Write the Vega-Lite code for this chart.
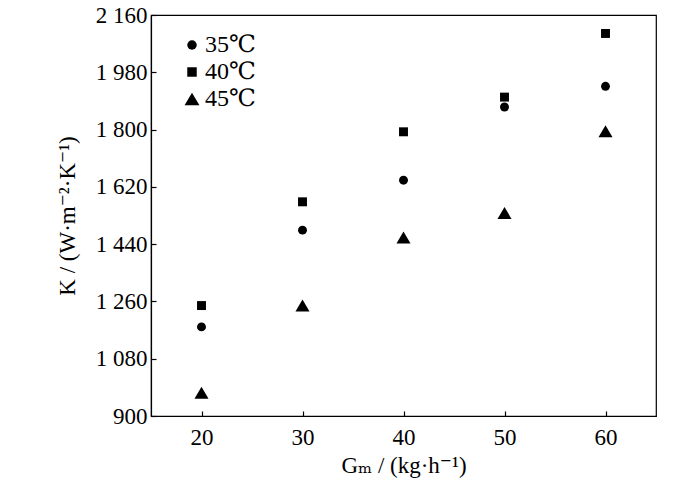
{
  "$schema": "https://vega.github.io/schema/vega-lite/v6.json",
  "autosize": "none",
  "padding": {"left": 151, "top": 15, "right": 44, "bottom": 77},
  "width": 505,
  "height": 401,
  "data": {
    "values": [
      {"G": 20, "K": 1180, "T": "35℃"},
      {"G": 30, "K": 1484, "T": "35℃"},
      {"G": 40, "K": 1641, "T": "35℃"},
      {"G": 50, "K": 1871, "T": "35℃"},
      {"G": 60, "K": 1936, "T": "35℃"},
      {"G": 20, "K": 1247, "T": "40℃"},
      {"G": 30, "K": 1573, "T": "40℃"},
      {"G": 40, "K": 1793, "T": "40℃"},
      {"G": 50, "K": 1902, "T": "40℃"},
      {"G": 60, "K": 2102, "T": "40℃"},
      {"G": 20, "K": 973, "T": "45℃"},
      {"G": 30, "K": 1247, "T": "45℃"},
      {"G": 40, "K": 1461, "T": "45℃"},
      {"G": 50, "K": 1538, "T": "45℃"},
      {"G": 60, "K": 1795, "T": "45℃"}
    ]
  },
  "mark": {"type": "point", "filled": true, "opacity": 1, "size": 80},
  "encoding": {
    "x": {
      "field": "G",
      "type": "quantitative",
      "scale": {"domain": [15, 65], "nice": false},
      "axis": {
        "values": [20, 30, 40, 50, 60],
        "title": "Gₘ / (kg·h⁻¹)",
        "labelPadding": 15,
        "titlePadding": 5
      }
    },
    "y": {
      "field": "K",
      "type": "quantitative",
      "scale": {"domain": [900, 2160], "nice": false, "zero": false},
      "axis": {
        "values": [900, 1080, 1260, 1440, 1620, 1800, 1980, 2160],
        "labelExpr": "replace(format(datum.value, ','), ',', ' ')",
        "labelPadding": 9,
        "title": "K / (W·m⁻²·K⁻¹)",
        "titlePadding": 16
      }
    },
    "shape": {
      "field": "T",
      "type": "nominal",
      "scale": {
        "domain": ["35℃", "40℃", "45℃"],
        "range": ["circle", "square", "M0,-1.34L1.57,1.34L-1.57,1.34Z"]
      },
      "legend": {
        "title": null,
        "orient": "none",
        "legendX": 29,
        "legendY": 18,
        "symbolFillColor": "black",
        "symbolStrokeColor": "black",
        "symbolSize": 90,
        "labelFont": "Liberation Serif, DejaVu Serif, serif",
        "labelFontSize": 24,
        "rowPadding": 3,
        "labelOffset": 1
      }
    },
    "color": {"value": "black"}
  },
  "config": {
    "font": "Liberation Serif",
    "view": {"stroke": "black", "strokeWidth": 1.2},
    "axis": {
      "grid": false,
      "domainColor": "black",
      "domainWidth": 1.2,
      "tickColor": "black",
      "tickSize": -5,
      "tickWidth": 1.2,
      "labelFont": "Liberation Serif",
      "labelFontSize": 23,
      "labelColor": "black",
      "titleFont": "Liberation Serif, DejaVu Serif, serif",
      "titleFontSize": 23,
      "titleFontWeight": "normal",
      "titleColor": "black"
    },
    "legend": {"labelColor": "black"}
  }
}
